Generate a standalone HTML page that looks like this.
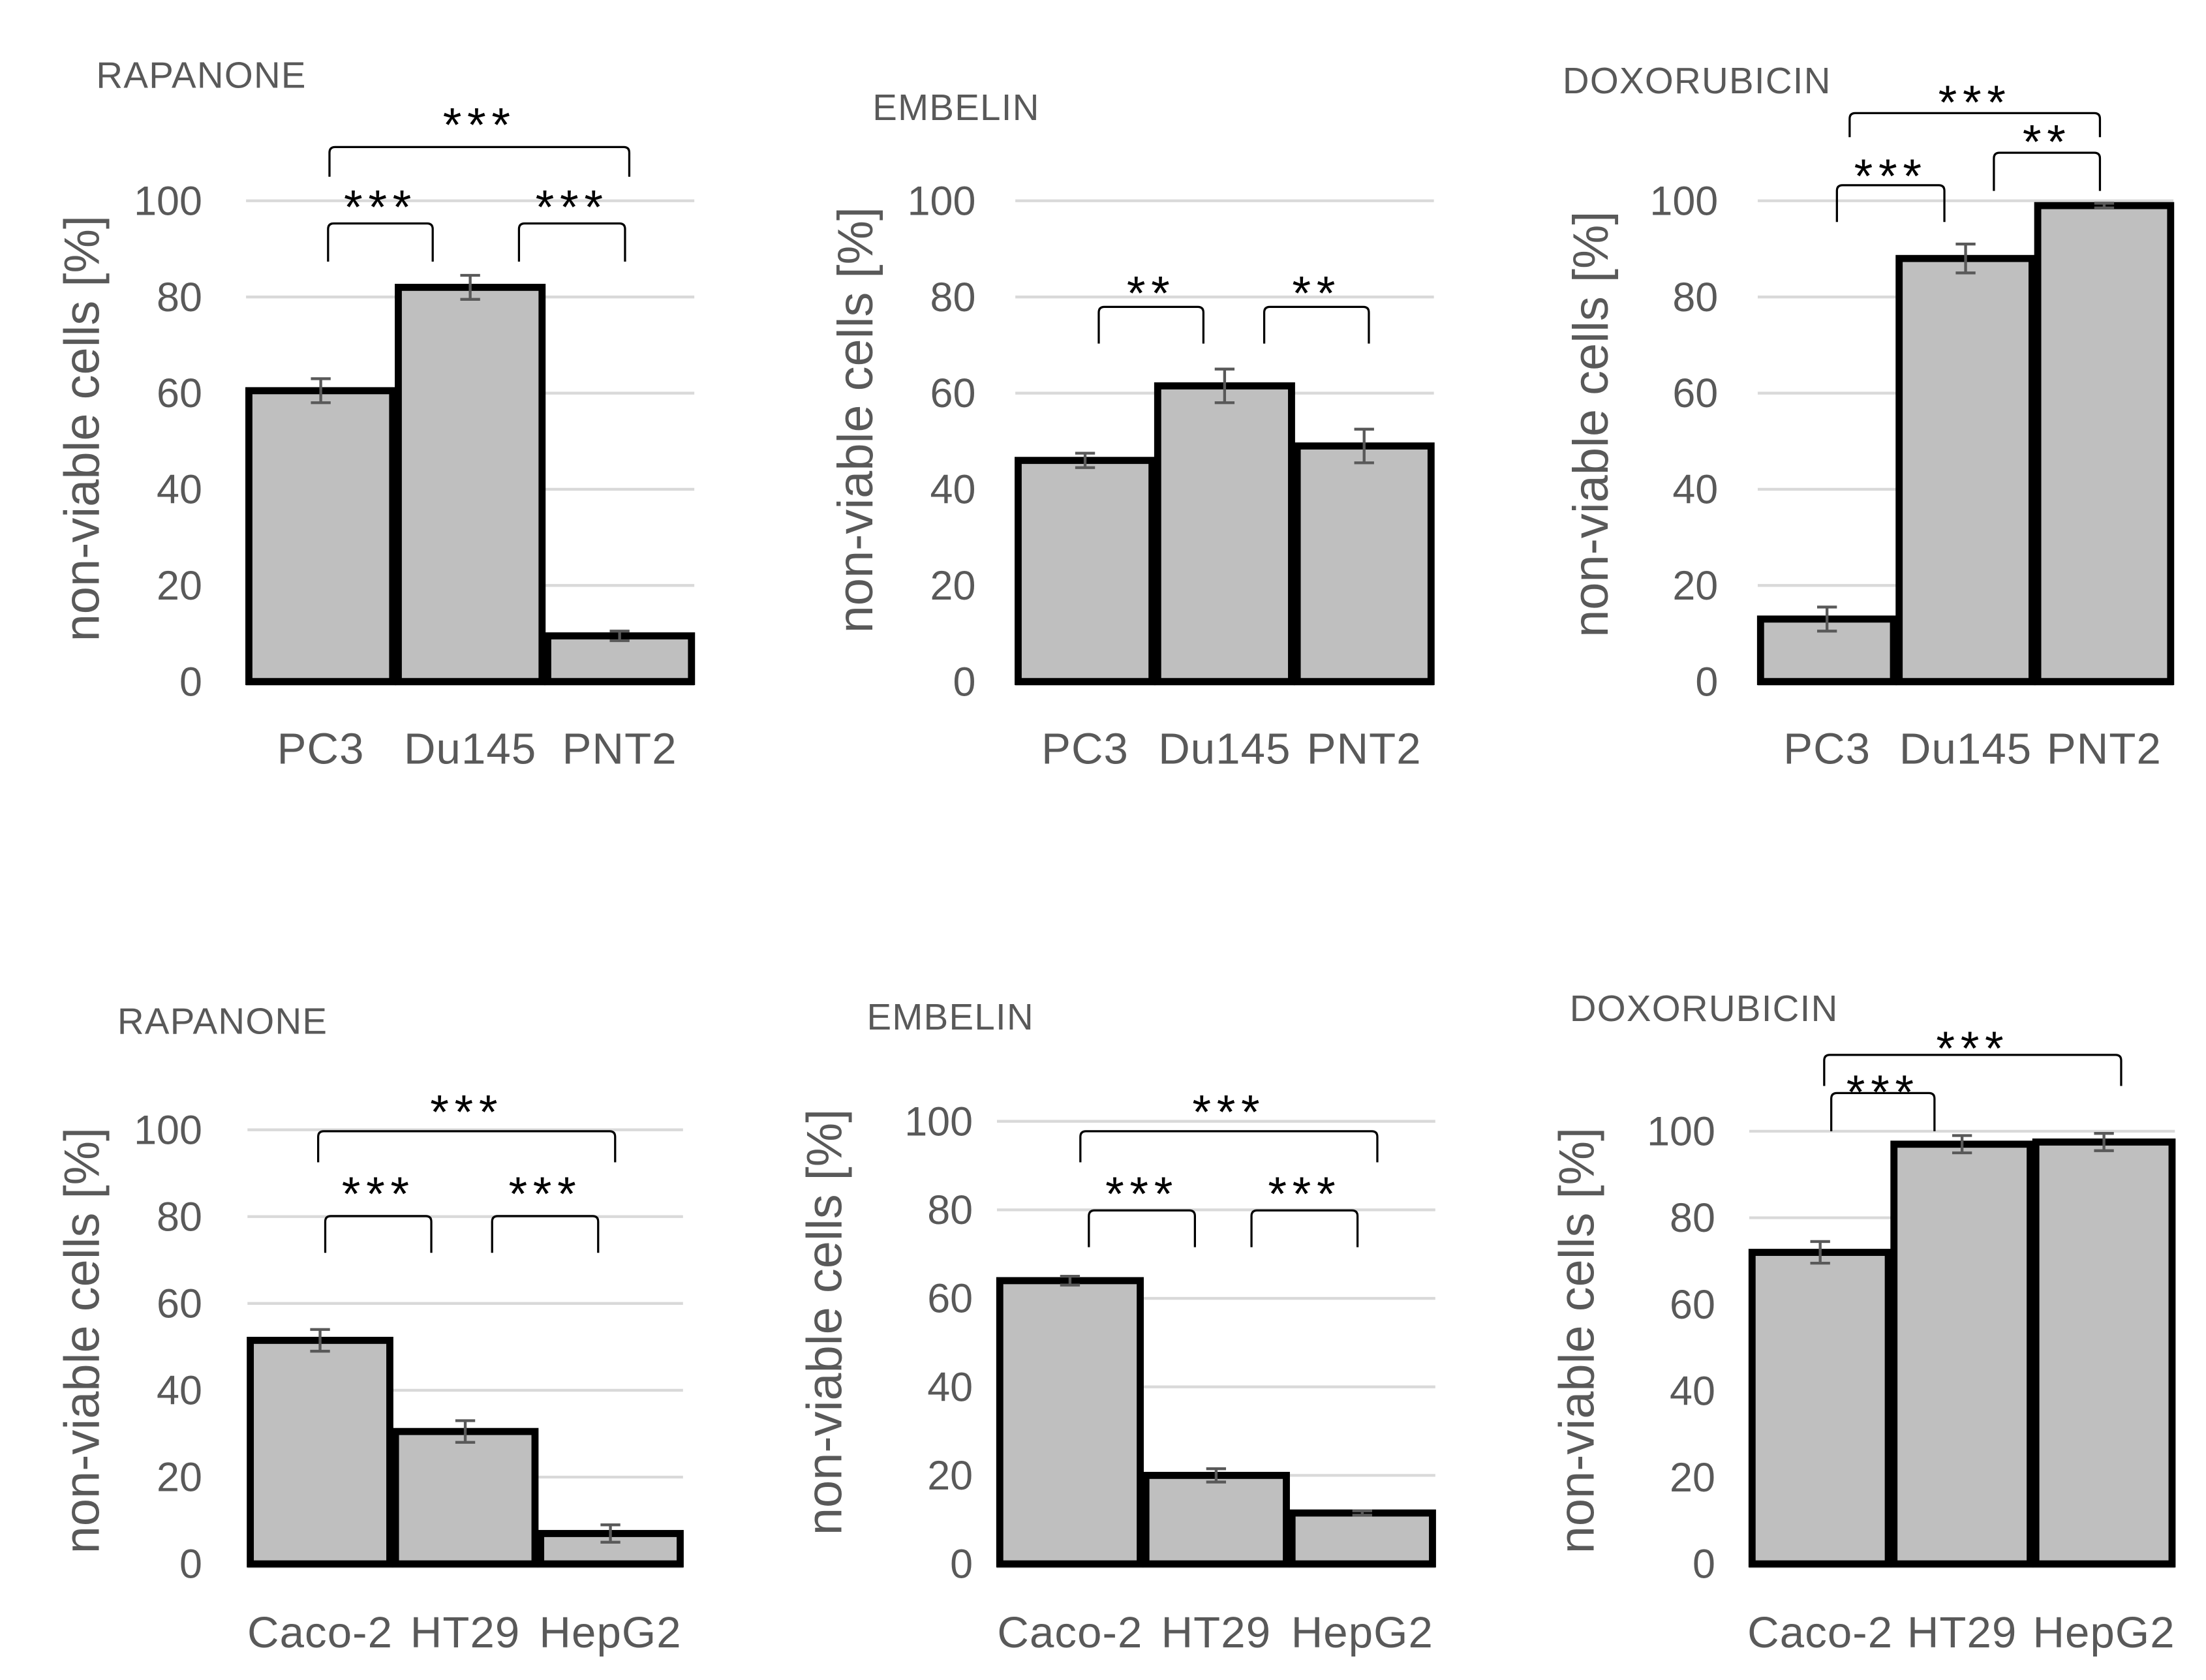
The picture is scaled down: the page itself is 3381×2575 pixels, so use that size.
<!DOCTYPE html>
<html><head><meta charset="utf-8"><style>
html,body{margin:0;padding:0;background:#fff;}
svg{display:block;font-family:"Liberation Sans","DejaVu Sans",sans-serif;}
</style></head><body>
<svg id="fig" width="3381" height="2575" viewBox="0 0 1560 1188.1" xmlns="http://www.w3.org/2000/svg"></svg>
<script>
const categoriesTop = ["PC3","Du145","PNT2"];
const categoriesBottom = ["Caco-2","HT29","HepG2"];
const titles = ["RAPANONE","EMBELIN","DOXORUBICIN","RAPANONE","EMBELIN","DOXORUBICIN"];
const values1 = [60.5, 82, 9.5];   const errors1 = [2.5, 2.5, 1];
const values2 = [46, 61.5, 49];    const errors2 = [1.5, 3.5, 3.5];
const values3 = [13, 88, 99];      const errors3 = [2.5, 3, 0.5];
const values4 = [51.5, 30.5, 7];   const errors4 = [2.5, 2.5, 2];
const values5 = [64, 20, 11.5];    const errors5 = [1, 1.5, 0.5];
const values6 = [72, 97, 97.5];    const errors6 = [2.5, 2, 2];
const tickValues = [0, 20, 40, 60, 80, 100];
const sig1 = [[0,2,"***"],[0,1,"***"],[1,2,"***"]];
const sig2 = [[0,1,"**"],[1,2,"**"]];
const sig3 = [[0,2,"***"],[0,1,"***"],[1,2,"**"]];
const sig4 = [[0,2,"***"],[0,1,"***"],[1,2,"***"]];
const sig5 = [[0,2,"***"],[0,1,"***"],[1,2,"***"]];
const sig6 = [[0,2,"***"],[0,1,"***"]];

const NS="http://www.w3.org/2000/svg";
const svg=document.getElementById('fig');
function mk(tag,attrs,parent){const e=document.createElementNS(NS,tag);for(const k in attrs)e.setAttribute(k,attrs[k]);(parent||svg).appendChild(e);return e;}

const layouts=[
 {x0:174,x1:491,y0:482,y100:142,tx:68,ty:62,lx:58,ly:303,tickX:143,xl:540,br:[[233,445,104,125,92],[232,306,158,185,150],[367,442,158,185,150]]},
 {x0:718,x1:1014,y0:482,y100:142,tx:617,ty:85,lx:605,ly:297,tickX:690,xl:540,br:[[777,851,217,243,211],[894,968,217,243,211]]},
 {x0:1243,x1:1537,y0:482,y100:142,tx:1105,ty:66,lx:1125,ly:300,tickX:1215,xl:540,br:[[1308,1485,80,97,76],[1299,1375,131,157,128],[1410,1485,108,135,104]]},
 {x0:175,x1:483,y0:1106,y100:799,tx:83,ty:731,lx:58,ly:948,tickX:143,xl:1165,br:[[225,435,800,822,790],[230,305,860,886,848],[348,423,860,886,848]]},
 {x0:705,x1:1015,y0:1106,y100:793,tx:613,ty:728,lx:583,ly:935,tickX:688,xl:1165,br:[[764,974,800,822,790],[770,845,856,882,848],[885,960,856,882,848]]},
 {x0:1237,x1:1538,y0:1106,y100:800,tx:1110,ty:722,lx:1115,ly:948,tickX:1213,xl:1165,br:[[1290,1500,746,768,745],[1295,1368,773,800,776]]}
];
const allVals=[values1,values2,values3,values4,values5,values6];
const allErrs=[errors1,errors2,errors3,errors4,errors5,errors6];
const allSig=[sig1,sig2,sig3,sig4,sig5,sig6];

layouts.forEach((L,p)=>{
  const g=mk('g',{});
  
  
  const cats=p<3?categoriesTop:categoriesBottom;
  const vals=allVals[p], errs=allErrs[p];
  const y=v=>L.y0-(L.y0-L.y100)*v/100;
  const bw=(L.x1-L.x0)/cats.length;
  const xc=i=>L.x0+bw*(i+0.5);
  const t=mk('text',{x:L.tx,y:L.ty,'font-size':26,fill:'#595959','letter-spacing':0.6},g);t.textContent=titles[p];
  
  
  tickValues.forEach(v=>{
    if(v>0){const gl=mk('line',{x1:L.x0,x2:L.x1,y1:y(v),y2:y(v),stroke:'#d9d9d9','stroke-width':2},g);
      
      }
    const tk=mk('text',{x:L.tickX,y:y(v)+10,'font-size':29,fill:'#595959','text-anchor':'end'},g);tk.textContent=v;
    
    
  });
  const ax=mk('line',{x1:L.x0,x2:L.x1,y1:L.y0+2,y2:L.y0+2,stroke:'#bfbfbf','stroke-width':2},g);
  
  
  const yl=mk('text',{x:0,y:0,'font-size':35,fill:'#595959','text-anchor':'middle',transform:`translate(${L.lx+12},${L.ly}) rotate(-90)`},g);
  yl.textContent='non-viable cells [%]';
  
  
  vals.forEach((v,i)=>{
    const b=mk('rect',{x:L.x0+bw*i+2,y:y(v),width:bw-4,height:L.y0-y(v),fill:'#bfbfbf',stroke:'#000','stroke-width':5},g);
    
    
    const e1=y(v+errs[i]),e2=y(v-errs[i]),c=xc(i);
    const eb=mk('path',{d:`M${c},${e1}V${e2}M${c-7},${e1}H${c+7}M${c-7},${e2}H${c+7}`,stroke:'#595959','stroke-width':2,fill:'none'},g);
    
    
    const xl=mk('text',{x:c,y:L.xl,'font-size':31,fill:'#595959','text-anchor':'middle','letter-spacing':0.5},g);xl.textContent=cats[i];
    
    
  });
  allSig[p].forEach((s,k)=>{
    const B=L.br[k];
    const br=mk('path',{d:`M${B[0]},${B[3]}V${B[2]+4}Q${B[0]},${B[2]} ${B[0]+4},${B[2]}H${B[1]-4}Q${B[1]},${B[2]} ${B[1]},${B[2]+4}V${B[3]}`,stroke:'#000','stroke-width':1.5,fill:'none'},g);
    
    
    const st=mk('text',{x:(B[0]+B[1])/2,y:B[4]+8,'font-size':34,fill:'#000','text-anchor':'middle','letter-spacing':4},g);st.textContent=s[2];
    
    
  });
});
</script>
</body></html>
